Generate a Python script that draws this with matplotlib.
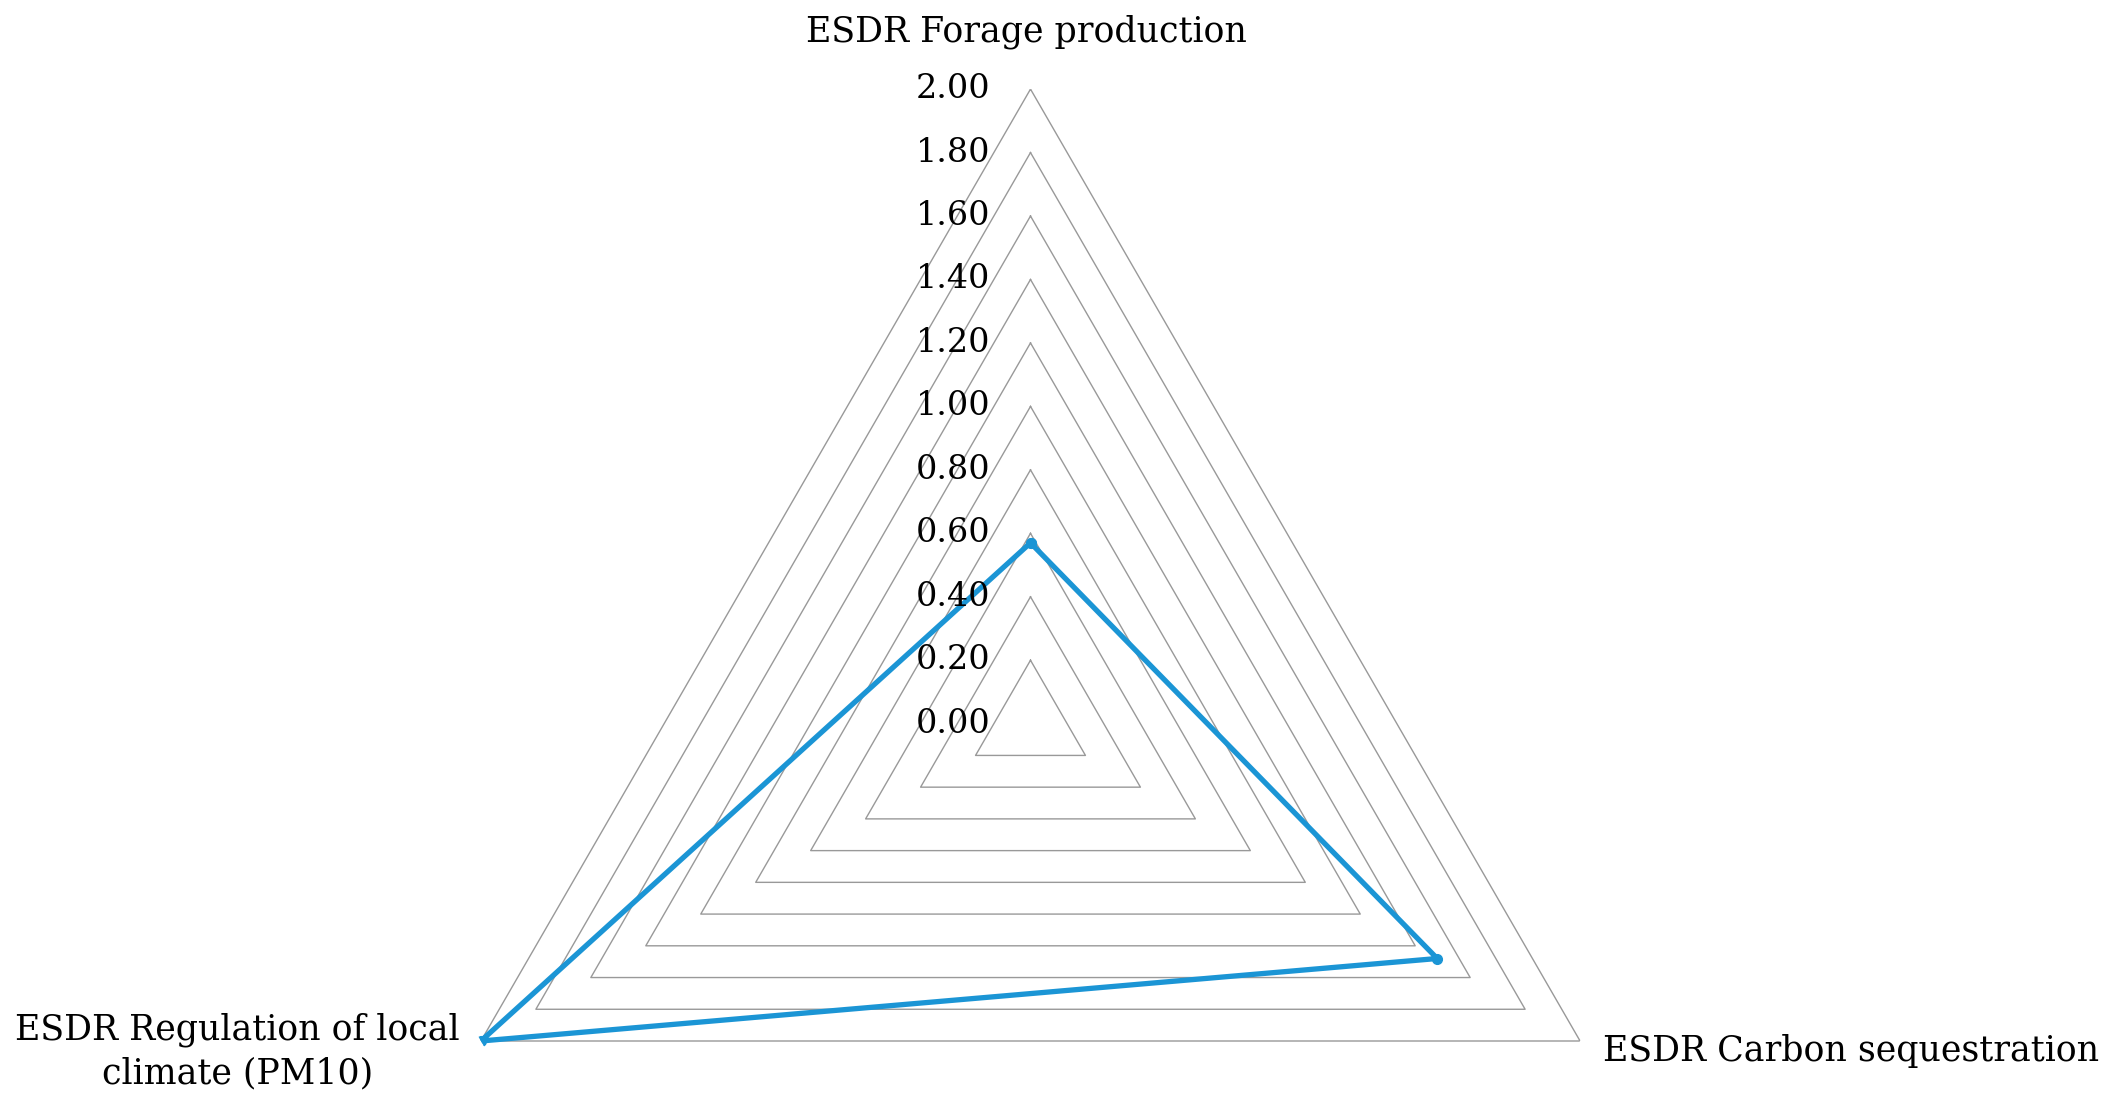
import numpy as np
import matplotlib.pyplot as plt

# Radar chart data
categories = ['ESDR Forage production', 'ESDR Carbon sequestration',
              'ESDR Regulation of local\nclimate (PM10)']
values = [0.57, 1.48, 2.00]
levels = [0.00, 0.20, 0.40, 0.60, 0.80, 1.00, 1.20, 1.40, 1.60, 1.80, 2.00]
tick_labels = ['0.00', '0.20', '0.40', '0.60', '0.80', '1.00',
               '1.20', '1.40', '1.60', '1.80', '2.00']

plt.rcParams['font.family'] = ['DejaVu Serif']

fig = plt.figure(figsize=(21.04, 11.17), dpi=100)
W, H = 2104, 1117
cx, cy, R = 1030.5, 723.7, 634.6
ax = fig.add_axes([(cx - R) / W, (H - cy - R) / H, 2 * R / W, 2 * R / H],
                  projection='polar')
ax.set_theta_zero_location('N')
ax.set_theta_direction(-1)
ax.set_ylim(0, 2.0)
ax.axis('off')

angles = np.arange(len(categories)) * 2 * np.pi / len(categories)
closed = np.append(angles, angles[0])

# triangular gridlines
for lv in levels[1:]:
    ax.plot(closed, [lv] * len(closed), color='#999999', lw=1.0, zorder=1)

# data series
vals = np.append(values, values[0])
ax.plot(closed, vals, color='#1b95d5', lw=3.8, zorder=3,
        marker='o', markersize=7, solid_joinstyle='miter')

# value axis labels
for lv, lab in zip(levels, tick_labels):
    ax.annotate(lab, xy=(0, lv), xytext=(-40, 0), textcoords='offset pixels',
                ha='right', va='center', fontsize=24, color='black')

# category labels
ax.annotate(categories[0], xy=(angles[0], 2.0), xytext=(-4, 57),
            textcoords='offset pixels', ha='center', va='center', fontsize=25)
ax.annotate(categories[1], xy=(angles[1], 2.0), xytext=(23, -10),
            textcoords='offset pixels', ha='left', va='center', fontsize=25)
ax.annotate(categories[2], xy=(angles[2], 2.0), xytext=(-21, -10),
            textcoords='offset pixels', ha='right', va='center',
            multialignment='center', fontsize=25, linespacing=1.35)

fig.savefig('out.png', dpi=100)
